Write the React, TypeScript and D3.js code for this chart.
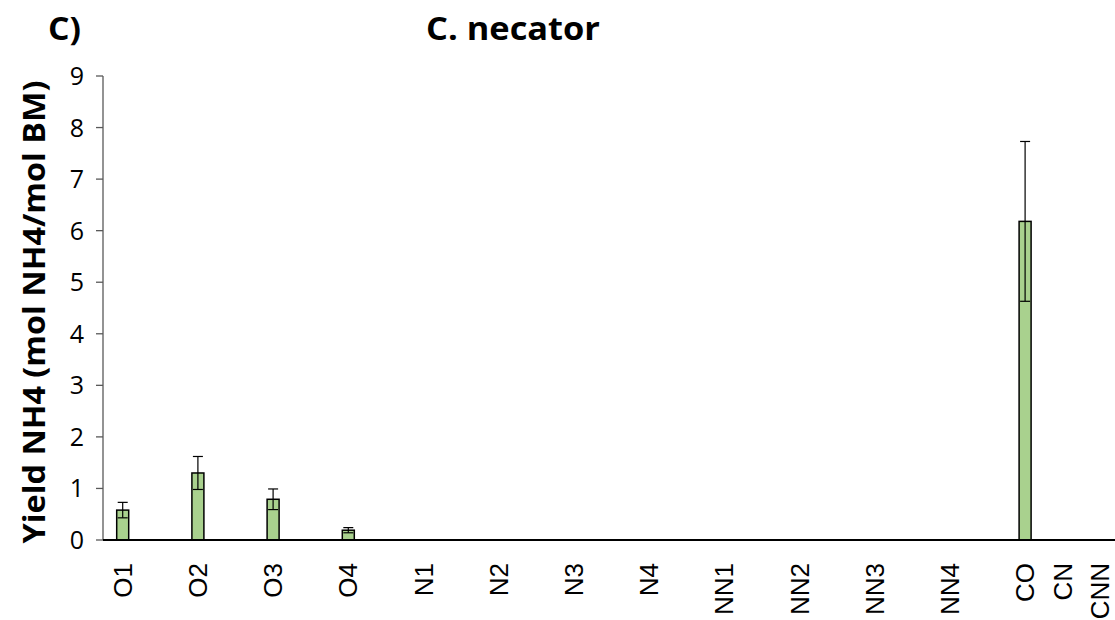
import React from "react";
import * as d3 from "d3";

// Ammonium yield per condition for C. necator
const categories = ["O1", "O2", "O3", "O4", "N1", "N2", "N3", "N4", "NN1", "NN2", "NN3", "NN4", "CO", "CN", "CNN"];
// Category slot along the x axis (CN and CNN sit at half spacing)
const slots = [0, 1, 2, 3, 4, 5, 6, 7, 8, 9, 10, 11, 12, 12.5, 13];
const yieldValues = [0.58, 1.3, 0.79, 0.19, 0, 0, 0, 0, 0, 0, 0, 0, 6.18, 0, 0];
const yieldErrors = [0.15, 0.32, 0.2, 0.05, 0, 0, 0, 0, 0, 0, 0, 0, 1.55, 0, 0];
const yTicks = [0, 1, 2, 3, 4, 5, 6, 7, 8, 9];

const W = 1115;
const H = 620;
const axisLeft = 103;
const axisRight = 1115;

export default function App() {
  const x = d3.scaleLinear().domain([0, 13]).range([122.7, 1100.3]);
  const y = d3.scaleLinear().domain([0, 9]).range([540, 76]);
  const barW = 12;
  const capW = 10;

  return (
    <div style={{ position: "absolute", left: 0, top: 0 }}>
      <svg width={W} height={H} style={{ display: "block", background: "#fff" }}>
        {/* panel label and title */}
        <text x={48} y={40} fontFamily="'Open Sans', sans-serif" fontWeight={700} fontSize={33} fill="#000" textLength={33} lengthAdjust="spacingAndGlyphs">
          C)
        </text>
        <text x={513} y={40} textAnchor="middle" fontFamily="'Open Sans', sans-serif" fontWeight={700} fontSize={33} fill="#000" textLength={174} lengthAdjust="spacingAndGlyphs">
          C. necator
        </text>

        {/* y axis title */}
        <text
          transform={`translate(45, ${y(4.5) + 4}) rotate(-90)`}
          textAnchor="middle"
          fontFamily="'Open Sans', sans-serif"
          fontWeight={700}
          fontSize={30}
          fill="#000"
          textLength={463}
          lengthAdjust="spacingAndGlyphs"
        >
          Yield NH4 (mol NH4/mol BM)
        </text>

        {/* y axis */}
        <line x1={axisLeft} x2={axisLeft} y1={y(9)} y2={y(0)} stroke="#595959" strokeWidth={1.3} />
        {yTicks.map((t) => (
          <g key={t}>
            <line x1={axisLeft - 7} x2={axisLeft} y1={y(t)} y2={y(t)} stroke="#595959" strokeWidth={1.3} />
            <text x={84} y={y(t)} dy="0.36em" textAnchor="end" fontFamily="'Open Sans', sans-serif" fontSize={25} fill="#000">
              {t}
            </text>
          </g>
        ))}

        {/* bars */}
        {categories.map((c, i) =>
          yieldValues[i] > 0 ? (
            <rect
              key={c}
              x={x(slots[i]) - barW / 2}
              y={y(yieldValues[i])}
              width={barW}
              height={y(0) - y(yieldValues[i])}
              fill="#a9d18e"
              stroke="#000"
              strokeWidth={1.5}
            />
          ) : null
        )}

        {/* error bars */}
        {categories.map((c, i) => {
          if (yieldErrors[i] <= 0) return null;
          const cx = x(slots[i]);
          const hi = y(yieldValues[i] + yieldErrors[i]);
          const lo = y(Math.max(0, yieldValues[i] - yieldErrors[i]));
          return (
            <g key={"e" + c} stroke="#000" strokeWidth={1.2}>
              <line x1={cx} x2={cx} y1={hi} y2={lo} />
              <line x1={cx - capW / 2} x2={cx + capW / 2} y1={hi} y2={hi} />
              <line x1={cx - capW / 2} x2={cx + capW / 2} y1={lo} y2={lo} />
            </g>
          );
        })}

        {/* x axis */}
        <line x1={axisLeft} x2={axisRight} y1={y(0)} y2={y(0)} stroke="#000" strokeWidth={1.8} />
        {categories.map((c, i) => (
          <text
            key={"l" + c}
            transform={`translate(${x(slots[i]) + 9}, 563) rotate(-90)`}
            textAnchor="end"
            fontFamily="'Liberation Sans', Arial, sans-serif"
            fontSize={26}
            fill="#000"
          >
            {c}
          </text>
        ))}
      </svg>
    </div>
  );
}
